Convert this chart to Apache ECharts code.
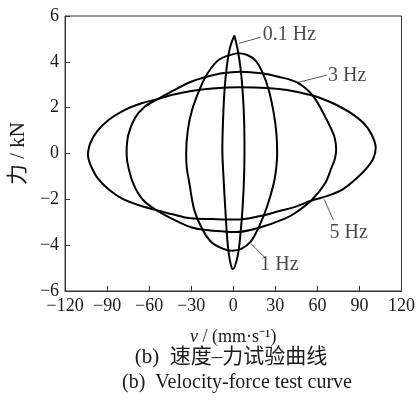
<!DOCTYPE html>
<html>
<head>
<meta charset="utf-8">
<script src="https://cdn.jsdelivr.net/npm/echarts@6/dist/echarts.min.js"></script>
<style>
  html, body { margin: 0; padding: 0; background: #fff; }
  #chart { width: 418px; height: 404px; }
</style>
</head>
<body>
<div id="chart"></div>
<script>
// Velocity (mm/s) vs force (kN) hysteresis loops at four test frequencies
const xTicks = [-120, -90, -60, -30, 0, 30, 60, 90, 120];
const yTicks = [-6, -4, -2, 0, 2, 4, 6];

const loop01Hz = [
  [0.8, 5.15], [3.4, 4.45], [5.4, 3.6], [6.8, 2.6], [7.7, 1.5], [8.0, 0.2],
  [7.7, -1.0], [6.8, -2.2], [5.3, -3.4], [3.2, -4.45], [-0.4, -5.05],
  [-2.6, -4.6], [-4.2, -3.8], [-5.7, -2.4], [-7.0, -1.0], [-7.8, 0.2],
  [-7.2, 1.6], [-6.2, 2.8], [-4.6, 3.8], [-2.4, 4.6], [0.8, 5.15]
];

const loop1Hz = [
  [3.0, 4.38], [10.0, 4.3], [15.9, 4.05], [21.1, 3.5], [25.3, 2.77], [28.9, 1.75],
  [30.8, 0.85], [31.3, 0.0], [30.5, -0.7], [28.9, -1.3], [24.2, -2.3], [18.3, -3.2],
  [12.4, -3.85], [6.0, -4.15], [-0.6, -4.24], [-5.3, -4.2], [-14.7, -3.92],
  [-21.8, -3.34], [-27.8, -2.47], [-31.3, -1.3], [-33.2, -0.6], [-33.6, 0.0],
  [-32.4, 1.03], [-29.4, 1.9], [-24.2, 2.77], [-18.3, 3.5], [-10.0, 4.1], [3.0, 4.38]
];

const loop3Hz = [
  [-76.1, 0.1], [-74.9, 0.81], [-70.2, 1.54], [-63.2, 2.04], [-53.7, 2.38],
  [-44.2, 2.7], [-30.1, 3.13], [-20.0, 3.33], [-8.0, 3.5], [5.3, 3.57],
  [20.0, 3.5], [32.0, 3.35], [45.5, 3.1], [56.6, 2.53], [64.3, 1.75],
  [70.2, 1.03], [72.5, 0.65], [73.4, 0.15], [72.4, -0.25], [70.2, -0.6],
  [65.5, -1.3], [56.0, -2.03], [45.5, -2.54], [37.2, -2.83], [18.3, -3.24],
  [1.8, -3.43], [-5.3, -3.41], [-19.5, -3.34], [-30.1, -3.22], [-44.2, -2.83],
  [-54.9, -2.47], [-64.3, -2.03], [-71.4, -1.3], [-75.4, -0.43], [-76.1, 0.1]
];

const loop5Hz = [
  [-103.7, 0.0], [-102.0, 0.45], [-97.3, 0.95], [-89.0, 1.46], [-77.3, 1.9],
  [-65.5, 2.19], [-53.7, 2.38], [-44.2, 2.55], [-30.0, 2.73], [-15.0, 2.84],
  [5.3, 2.89], [24.0, 2.86], [38.4, 2.77], [56.5, 2.53], [67.0, 2.3],
  [76.1, 2.04], [85.0, 1.72], [92.5, 1.35], [98.5, 0.85], [101.6, 0.25],
  [100.0, -0.2], [95.0, -0.65], [88.0, -1.08], [78.4, -1.55], [66.7, -1.86],
  [56.0, -2.05], [43.0, -2.35], [33.6, -2.5], [18.3, -2.74], [1.8, -2.88],
  [-15.0, -2.86], [-30.1, -2.83], [-44.2, -2.64], [-54.9, -2.47],
  [-67.8, -2.25], [-79.6, -1.96], [-89.0, -1.56], [-96.5, -1.1],
  [-101.0, -0.62], [-103.2, -0.25], [-103.7, 0.0]
];

// Callout text: label name, leader start (on curve), leader end, text anchor (left, middle)
const calloutNames = ['0.1 Hz', '3 Hz', '5 Hz', '1 Hz'];
const leaderFrom = [[4.1, 4.81], [45.4, 3.09], [64.8, -2.0], [12.4, -3.92]];
const leaderTo = [[19.5, 5.07], [66.7, 3.42], [71.4, -2.9], [23.0, -4.57]];
const textAnchor = [[21.0, 5.17], [67.6, 3.38], [68.6, -3.46], [19.2, -4.86]];

const serif = '"Liberation Serif", "Times New Roman", "Noto Sans CJK SC", serif';
const ink = '#1a1a1a';
const fmtTick = v => (v < 0 ? '\u2212' + Math.abs(v) : String(v));

function loopSeries(name, pts) {
  return {
    name: name,
    type: 'line',
    data: pts,
    smooth: 0.35,
    showSymbol: false,
    symbol: 'none',
    lineStyle: { color: '#000', width: 2 },
    silent: true,
    z: 3
  };
}

const leaderSeries = calloutNames.map((n, i) => ({
  type: 'line',
  data: [leaderFrom[i], leaderTo[i]],
  symbol: 'none',
  lineStyle: { color: '#555', width: 1 },
  silent: true,
  z: 2
}));

const chart = echarts.init(document.getElementById('chart'), null, { renderer: 'canvas' });
chart.setOption({
  animation: false,
  backgroundColor: '#fff',
  grid: {
    left: 63, right: 16, top: 16, bottom: 113,
    show: true, borderColor: '#333', borderWidth: 1, backgroundColor: 'transparent'
  },
  xAxis: {
    type: 'value',
    min: xTicks[0], max: xTicks[xTicks.length - 1], interval: 30,
    axisLine: { show: true, onZero: false, lineStyle: { color: '#333', width: 1 } },
    axisTick: { show: true, inside: true, length: 5, lineStyle: { color: '#333' } },
    splitLine: { show: false },
    axisLabel: { formatter: fmtTick, color: ink, fontFamily: serif, fontSize: 18, margin: 6 },
    name: '{i|v} / (mm·s⁻¹)',
    nameLocation: 'middle',
    nameGap: 37,
    nameTextStyle: {
      color: ink, fontFamily: serif, fontSize: 18,
      rich: { i: { fontStyle: 'italic', fontFamily: serif, fontSize: 18, color: ink } }
    }
  },
  yAxis: {
    type: 'value',
    min: yTicks[0], max: yTicks[yTicks.length - 1], interval: 2,
    axisLine: { show: true, onZero: false, lineStyle: { color: '#333', width: 1 } },
    axisTick: { show: true, inside: true, length: 5, lineStyle: { color: '#333' } },
    splitLine: { show: false },
    axisLabel: { formatter: fmtTick, color: ink, fontFamily: serif, fontSize: 18, margin: 6 },
    name: '力 / kN',
    nameLocation: 'middle',
    nameGap: 32,
    nameTextStyle: { color: ink, fontFamily: serif, fontSize: 21 }
  },
  series: [
    loopSeries('0.1 Hz', loop01Hz),
    loopSeries('1 Hz', loop1Hz),
    loopSeries('3 Hz', loop3Hz),
    loopSeries('5 Hz', loop5Hz),
    ...leaderSeries,
    {
      type: 'scatter',
      symbolSize: 0,
      silent: true,
      data: calloutNames.map((n, i) => ({ name: n, value: textAnchor[i] })),
      label: {
        show: true, position: 'right', distance: 0,
        formatter: p => p.name,
        color: ink, fontFamily: serif, fontSize: 20
      },
      z: 4
    }
  ],
  graphic: [
    {
      type: 'text', x: 231, y: 347,
      style: { text: '(b)  速度–力试验曲线', fill: ink, font: '21px ' + serif, textAlign: 'center' }
    },
    {
      type: 'text', x: 237, y: 373,
      style: { text: '(b)  Velocity-force test curve', fill: ink, font: '20px ' + serif, textAlign: 'center' }
    }
  ]
});
</script>
</body>
</html>
